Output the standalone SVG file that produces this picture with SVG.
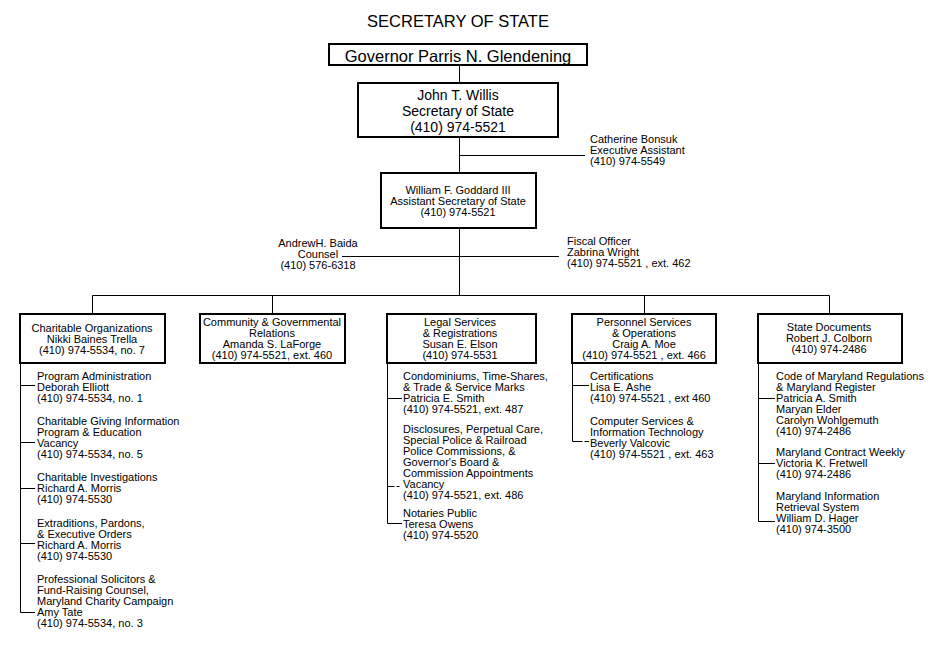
<svg xmlns="http://www.w3.org/2000/svg" width="942" height="650" viewBox="0 0 942 650">
<style>
text{font-family:"Liberation Sans",Arial,sans-serif;fill:#000}
.s{font-size:11px}
.m{text-anchor:middle}
.box{fill:#fff;stroke:#000;stroke-width:2}
.ln{stroke:#000;stroke-width:1;fill:none}
</style>
<rect width="942" height="650" fill="#fff"/>
<text x="458" y="27" class="m" font-size="16.5">SECRETARY OF STATE</text>

<g id="connectors">
<path class="ln" d="M459.5 66V82M459.5 138V172M459.5 155.5H585M459.5 229V296M342 256.5H559M92.5 313V295.5H829.5V313M272.5 295.5V313M644.5 295.5V313"/>
<path class="ln" d="M20.5 364V612.5H35M20.5 385.5H35M20.5 442.5H35M20.5 488.5H35M20.5 543.5H35"/>
<path class="ln" d="M387.5 364V523.5H402M387.5 398.5H402"/>
<path class="ln" d="M387.5 486.5H402" stroke-dasharray="7 2 3"/>
<path class="ln" d="M572.5 364V441.5M572.5 385.5H589"/>
<path class="ln" d="M572.5 441.5H589" stroke-dasharray="10 2 5"/>
<path class="ln" d="M758.5 364V521.5H775M758.5 398.5H775M758.5 463.5H775"/>
</g>

<g id="governor">
<rect class="box" x="329" y="44" width="258" height="21"/>
<text x="458" y="62" class="m" font-size="16.5">Governor Parris N. Glendening</text>
</g>

<g id="secretary">
<rect class="box" x="358" y="83" width="200" height="54"/>
<text class="m" font-size="14"><tspan x="458" y="100">John T. Willis</tspan><tspan x="458" y="116">Secretary of State</tspan><tspan x="458" y="132">(410) 974-5521</tspan></text>
</g>

<g id="exec-assistant">
<text class="s"><tspan x="590" y="143">Catherine Bonsuk</tspan><tspan x="590" y="154">Executive Assistant</tspan><tspan x="590" y="165">(410) 974-5549</tspan></text>
</g>

<g id="asst-secretary">
<rect class="box" x="381" y="173" width="155" height="55"/>
<text class="s m"><tspan x="458" y="194">William F. Goddard III</tspan><tspan x="458" y="205">Assistant Secretary of State</tspan><tspan x="458" y="216">(410) 974-5521</tspan></text>
</g>

<g id="counsel">
<text class="s m"><tspan x="318" y="247">AndrewH. Baida</tspan><tspan x="318" y="258">Counsel</tspan><tspan x="318" y="269">(410) 576-6318</tspan></text>
</g>

<g id="fiscal">
<text class="s"><tspan x="567" y="245">Fiscal Officer</tspan><tspan x="567" y="256">Zabrina Wright</tspan><tspan x="567" y="267">(410) 974-5521 , ext. 462</tspan></text>
</g>

<g id="charitable">
<rect class="box" x="20" y="314" width="145" height="49"/>
<text class="s m"><tspan x="92" y="332">Charitable Organizations</tspan><tspan x="92" y="343">Nikki Baines Trella</tspan><tspan x="92" y="354">(410) 974-5534, no. 7</tspan></text>
</g>

<g id="community">
<rect class="box" x="200" y="314" width="145" height="49"/>
<text class="s m"><tspan x="272" y="326">Community &amp; Governmental</tspan><tspan x="272" y="337">Relations</tspan><tspan x="272" y="348">Amanda S. LaForge</tspan><tspan x="272" y="359">(410) 974-5521, ext. 460</tspan></text>
</g>

<g id="legal">
<rect class="box" x="387" y="314" width="149" height="49"/>
<text class="s m"><tspan x="460" y="326">Legal Services</tspan><tspan x="460" y="337">&amp; Registrations</tspan><tspan x="460" y="348">Susan E. Elson</tspan><tspan x="460" y="359">(410) 974-5531</tspan></text>
</g>

<g id="personnel">
<rect class="box" x="572" y="314" width="144" height="49"/>
<text class="s m"><tspan x="644" y="326">Personnel Services</tspan><tspan x="644" y="337">&amp; Operations</tspan><tspan x="644" y="348">Craig A. Moe</tspan><tspan x="644" y="359">(410) 974-5521 , ext. 466</tspan></text>
</g>

<g id="state-documents">
<rect class="box" x="758" y="314" width="144" height="49"/>
<text class="s m"><tspan x="829" y="331">State Documents</tspan><tspan x="829" y="342">Robert J. Colborn</tspan><tspan x="829" y="353">(410) 974-2486</tspan></text>
</g>

<g id="charitable-units">
<g id="program-admin"><text class="s"><tspan x="37" y="380">Program Administration</tspan><tspan x="37" y="391">Deborah Elliott</tspan><tspan x="37" y="402">(410) 974-5534, no. 1</tspan></text></g>
<g id="giving-info"><text class="s"><tspan x="37" y="425">Charitable Giving Information</tspan><tspan x="37" y="436">Program &amp; Education</tspan><tspan x="37" y="447">Vacancy</tspan><tspan x="37" y="458">(410) 974-5534, no. 5</tspan></text></g>
<g id="investigations"><text class="s"><tspan x="37" y="481">Charitable Investigations</tspan><tspan x="37" y="492">Richard A. Morris</tspan><tspan x="37" y="503">(410) 974-5530</tspan></text></g>
<g id="extraditions"><text class="s"><tspan x="37" y="527">Extraditions, Pardons,</tspan><tspan x="37" y="538">&amp; Executive Orders</tspan><tspan x="37" y="549">Richard A. Morris</tspan><tspan x="37" y="560">(410) 974-5530</tspan></text></g>
<g id="solicitors"><text class="s"><tspan x="37" y="583">Professional Solicitors &amp;</tspan><tspan x="37" y="594">Fund-Raising Counsel,</tspan><tspan x="37" y="605">Maryland Charity Campaign</tspan><tspan x="37" y="616">Amy Tate</tspan><tspan x="37" y="627">(410) 974-5534, no. 3</tspan></text></g>
</g>

<g id="legal-units">
<g id="condominiums"><text class="s"><tspan x="403" y="380">Condominiums, Time-Shares,</tspan><tspan x="403" y="391">&amp; Trade &amp; Service Marks</tspan><tspan x="403" y="402">Patricia E. Smith</tspan><tspan x="403" y="413">(410) 974-5521, ext. 487</tspan></text></g>
<g id="disclosures"><text class="s"><tspan x="403" y="433">Disclosures, Perpetual Care,</tspan><tspan x="403" y="444">Special Police &amp; Railroad</tspan><tspan x="403" y="455">Police Commissions, &amp;</tspan><tspan x="403" y="466">Governor's Board &amp;</tspan><tspan x="403" y="477">Commission Appointments</tspan><tspan x="403" y="488">Vacancy</tspan><tspan x="403" y="499">(410) 974-5521, ext. 486</tspan></text></g>
<g id="notaries"><text class="s"><tspan x="403" y="517">Notaries Public</tspan><tspan x="403" y="528">Teresa Owens</tspan><tspan x="403" y="539">(410) 974-5520</tspan></text></g>
</g>

<g id="personnel-units">
<g id="certifications"><text class="s"><tspan x="590" y="380">Certifications</tspan><tspan x="590" y="391">Lisa E. Ashe</tspan><tspan x="590" y="402">(410) 974-5521 , ext 460</tspan></text></g>
<g id="computer"><text class="s"><tspan x="590" y="425">Computer Services &amp;</tspan><tspan x="590" y="436">Information Technology</tspan><tspan x="590" y="447">Beverly Valcovic</tspan><tspan x="590" y="458">(410) 974-5521 , ext. 463</tspan></text></g>
</g>

<g id="documents-units">
<g id="comar"><text class="s"><tspan x="776" y="380">Code of Maryland Regulations</tspan><tspan x="776" y="391">&amp; Maryland Register</tspan><tspan x="776" y="402">Patricia A. Smith</tspan><tspan x="776" y="413">Maryan Elder</tspan><tspan x="776" y="424">Carolyn Wohlgemuth</tspan><tspan x="776" y="435">(410) 974-2486</tspan></text></g>
<g id="contract-weekly"><text class="s"><tspan x="776" y="456">Maryland Contract Weekly</tspan><tspan x="776" y="467">Victoria K. Fretwell</tspan><tspan x="776" y="478">(410) 974-2486</tspan></text></g>
<g id="info-retrieval"><text class="s"><tspan x="776" y="500">Maryland Information</tspan><tspan x="776" y="511">Retrieval System</tspan><tspan x="776" y="522">William D. Hager</tspan><tspan x="776" y="533">(410) 974-3500</tspan></text></g>
</g>
</svg>
